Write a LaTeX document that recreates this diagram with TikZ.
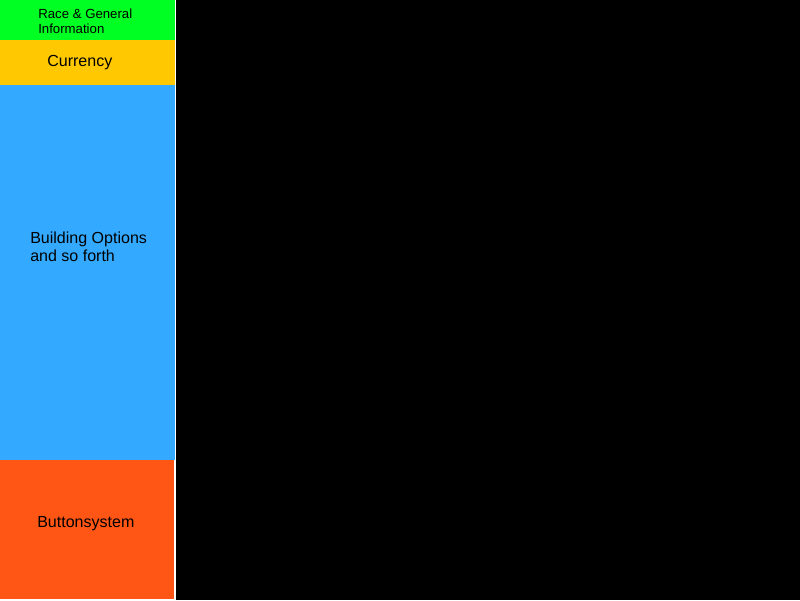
\documentclass[tikz,border=0pt]{standalone}
\usepackage{fontspec}
\setmainfont{Liberation Sans}
\usetikzlibrary{positioning}
\definecolor{racegreen}{RGB}{0,255,34}
\definecolor{moneyyellow}{RGB}{255,200,0}
\definecolor{buildblue}{RGB}{51,170,255}
\definecolor{buttonorange}{RGB}{255,85,21}

\begin{document}
\begin{tikzpicture}[
    x=0.025cm, y=-0.025cm,
    panel/.style={rectangle, inner sep=0pt, outer sep=0pt, anchor=north west},
    lbl/.style={anchor=west, align=left, inner sep=0pt, text=black,
                font=\fontsize{11.4}{12.8}\selectfont},
    small/.style={lbl, font=\fontsize{9.4}{10.7}\selectfont},
]
    \fill[white] (0,0) rectangle (800,600);

    \node[panel, fill=racegreen, minimum width=4.375cm, minimum height=1cm] (race) at (0,0) {};
    \node[panel, fill=moneyyellow, minimum width=4.375cm, minimum height=1.125cm] (money) at (0,40) {};
    \node[panel, fill=buildblue, minimum width=4.375cm, minimum height=9.375cm] (build) at (0,85) {};
    \node[panel, fill=buttonorange, minimum width=4.35cm, minimum height=3.475cm] (buttons) at (0,460) {};
    \node[panel, fill=black, minimum width=15.6cm, minimum height=15cm] (view) at (176,0) {};

    \node[small] (racetxt) at (38,21.5) {Race \& General\\Information};
    \node[lbl] (moneytxt) at (47,62.5) {Currency};
    \node[lbl] (buildtxt) at (30,246.5) {Building Options\\and so forth};
    \node[lbl] (buttontxt) at (37,523.5) {Buttonsystem};
\end{tikzpicture}
\end{document}
